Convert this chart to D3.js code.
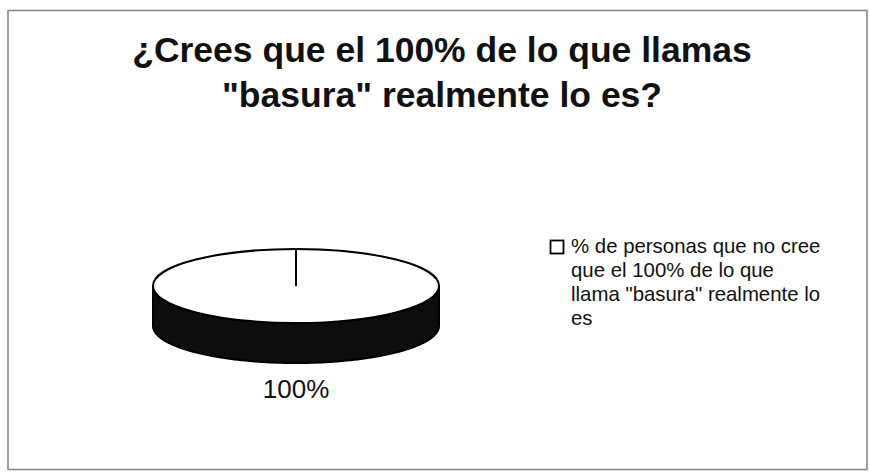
<!DOCTYPE html>
<html>
<head>
<meta charset="utf-8">
<script src="https://cdn.jsdelivr.net/npm/d3@7"></script>
<style>
  html, body { margin: 0; padding: 0; background: #fff; }
  svg { display: block; }
  text { font-family: "Liberation Sans", Arial, sans-serif; fill: #111; }
</style>
</head>
<body>
<svg id="chart" width="870" height="473"></svg>
<script>
// Survey answer shares (percent)
const categories = ['% de personas que no cree que el 100% de lo que llama "basura" realmente lo es'];
const values = [100];
const sliceLabels = ["100%"];
const titleLines = ["¿Crees que el 100% de lo que llamas", "\"basura\" realmente lo es?"];
const legendLines = ["% de personas que no cree", "que el 100% de lo que", "llama \"basura\" realmente lo", "es"];

const W = 870, H = 473;
const svg = d3.select("#chart");

// chart frame
svg.append("rect")
  .attr("x", 8).attr("y", 10.5)
  .attr("width", 859).attr("height", 459)
  .attr("fill", "#fff")
  .attr("stroke", "#8a8a8a")
  .attr("stroke-width", 1.6);

// title
const title = svg.append("text")
  .attr("text-anchor", "middle")
  .attr("font-weight", "bold")
  .attr("font-size", 35.5);
titleLines.forEach((t, i) => {
  title.append("tspan").attr("x", 442).attr("y", 62 + i * 45).text(t);
});

// 3D pie geometry
const cx = 296, cy = 286, rx = 143, ry = 37, depth = 40;
const pie = d3.pie().sort(null).value(d => d);
const arcs = pie(values);
const fills = ["#ffffff"];

const px = a => cx + rx * Math.sin(a);
const py = a => cy - ry * Math.cos(a);

const g = svg.append("g");

// side walls: only the front half of the rim (angles between π/2 and 3π/2) is visible
arcs.forEach((d, i) => {
  const a0 = Math.max(d.startAngle, Math.PI / 2);
  const a1 = Math.min(d.endAngle, 3 * Math.PI / 2);
  if (a1 <= a0) return;
  const steps = d3.range(0, 121).map(k => a0 + (a1 - a0) * k / 120);
  const side = d3.area()
    .x(a => px(a))
    .y0(a => py(a))
    .y1(a => py(a) + depth);
  g.append("path")
    .attr("d", side(steps))
    .attr("fill", "#0d0d0d")
    .attr("stroke", "#000")
    .attr("stroke-width", 2)
    .attr("stroke-linejoin", "round");
});

// top faces, drawn as circular arcs squashed vertically
const arc = d3.arc().innerRadius(0).outerRadius(rx);
arcs.forEach((d, i) => {
  g.append("path")
    .attr("d", arc(d))
    .attr("transform", `translate(${cx},${cy}) scale(1,${ry / rx})`)
    .attr("fill", fills[i])
    .attr("stroke", "#000")
    .attr("stroke-width", 2)
    .attr("vector-effect", "non-scaling-stroke");
});

// slice boundary lines from the centre to the rim
arcs.forEach(d => {
  g.append("line")
    .attr("x1", cx).attr("y1", cy)
    .attr("x2", px(d.startAngle)).attr("y2", py(d.startAngle))
    .attr("stroke", "#000")
    .attr("stroke-width", 2);
});

// data labels
arcs.forEach((d, i) => {
  const mid = (d.startAngle + d.endAngle) / 2;
  svg.append("text")
    .attr("x", px(mid))
    .attr("y", py(mid) + depth + 35)
    .attr("text-anchor", "middle")
    .attr("font-size", 26)
    .text(sliceLabels[i]);
});

// legend
const legend = svg.append("g").attr("transform", "translate(550,240)");
categories.forEach((c, i) => {
  legend.append("rect")
    .attr("x", 0.5).attr("y", 0.5)
    .attr("width", 13).attr("height", 13)
    .attr("fill", fills[i])
    .attr("stroke", "#000")
    .attr("stroke-width", 1.8);
  const lt = legend.append("text").attr("font-size", 20.4);
  legendLines.forEach((t, k) => {
    lt.append("tspan").attr("x", 21).attr("y", 13 + k * 24).text(t);
  });
});
</script>
</body>
</html>
